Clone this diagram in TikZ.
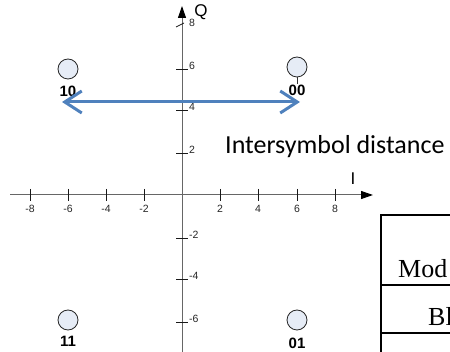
\documentclass[tikz,border=0pt]{standalone}
\usepackage{fontspec}
\setmainfont{Liberation Sans}
\newfontfamily\carlito{Carlito}
\newfontfamily\serifx{Liberation Serif}
\usetikzlibrary{arrows.meta}
\definecolor{ptfill}{RGB}{230,236,246}
\definecolor{arrblue}{RGB}{79,129,189}
\begin{document}
\begin{tikzpicture}[x=1pt,y=-1pt,
  axisline/.style={draw=black!60, line width=1pt, -{Triangle[length=12pt,width=8pt,color=black]}},
  tickline/.style={draw=black!90, line width=0.8pt},
  ticklab/.style={font=\fontsize{10.5}{10.5}\selectfont, inner sep=0pt, text=black!85},
  ptc/.style={circle, draw=black!85, fill=ptfill, line width=0.8pt, minimum size=20pt, inner sep=0pt},
  ptlab/.style={font=\bfseries\fontsize{15}{15}\selectfont, inner sep=0pt},
  axlab/.style={font=\fontsize{17}{17}\selectfont, inner sep=0pt},
  bigtext/.style={font=\carlito\fontsize{26}{26}\selectfont, inner sep=0pt, anchor=base west},
  tabtext/.style={font=\serifx\fontsize{26}{26}\selectfont, inner sep=0pt, anchor=base west},
  tabline/.style={draw=black, line width=2pt}]
\useasboundingbox (0,0) rectangle (450,352);

% axes
\coordinate (xs) at (10,195);
\coordinate (xe) at (373,195);
\coordinate (ys) at (182,356);
\coordinate (ye) at (182,6);
\draw[axisline] (xs) -- (xe);
\draw[axisline] (ys) -- (ye);
\node[axlab] (Q) at (201,12) {Q};
\node[axlab] (I) at (353,179) {I};

% horizontal ticks
\foreach \v/\x in {-8/30,-6/68,-4/106,-2/144,2/220,4/258,6/297,8/335}{
  \draw[tickline] (\x,189) -- (\x,201);
  \node[ticklab] at (\x,209) {\v};
}
% vertical ticks
\foreach \v/\y in {6/69,4/110,2/153,-2/238,-4/279,-6/322}{
  \draw[tickline] (176,\y) -- (188,\y);
  \node[ticklab, anchor=west] at (189,\y-3) {\v};
}
\draw[tickline] (176,27) -- (184,23);
\node[ticklab, anchor=west] at (189,23) {8};

% constellation points
\node[ptc] (c10) at (68,69) {};
\node[ptc] (c00) at (297,67) {};
\node[ptc] (c11) at (68,320) {};
\node[ptc] (c01) at (297,320) {};
\node[ptlab] (l10) at (68,91) {10};
\node[ptlab] (l00) at (297,90) {00};
\node[ptlab] (l11) at (68,341) {11};
\node[ptlab] (l01) at (297,343) {01};
\draw[black!80, line width=0.7pt] (c00.south) -- (l00.north);

% distance arrow
\coordinate (aL) at (62,102);
\coordinate (aR) at (300,102);
\draw[arrblue, line width=3pt,
  {Straight Barb[length=17pt,width=22pt]}-{Straight Barb[length=17pt,width=22pt]}] (aL) -- (aR);

\node[bigtext] (dist) at (225,154) {Intersymbol distance};

% table fragment
\draw[tabline] (453,215) -| (381,356);
\draw[tabline] (381,285) -- (453,285);
\draw[tabline] (381,333) -- (453,333);
\node[tabtext] (mod) at (398,278) {Mod};
\node[tabtext] (bl) at (428,326) {Bl};
\end{tikzpicture}
\end{document}
